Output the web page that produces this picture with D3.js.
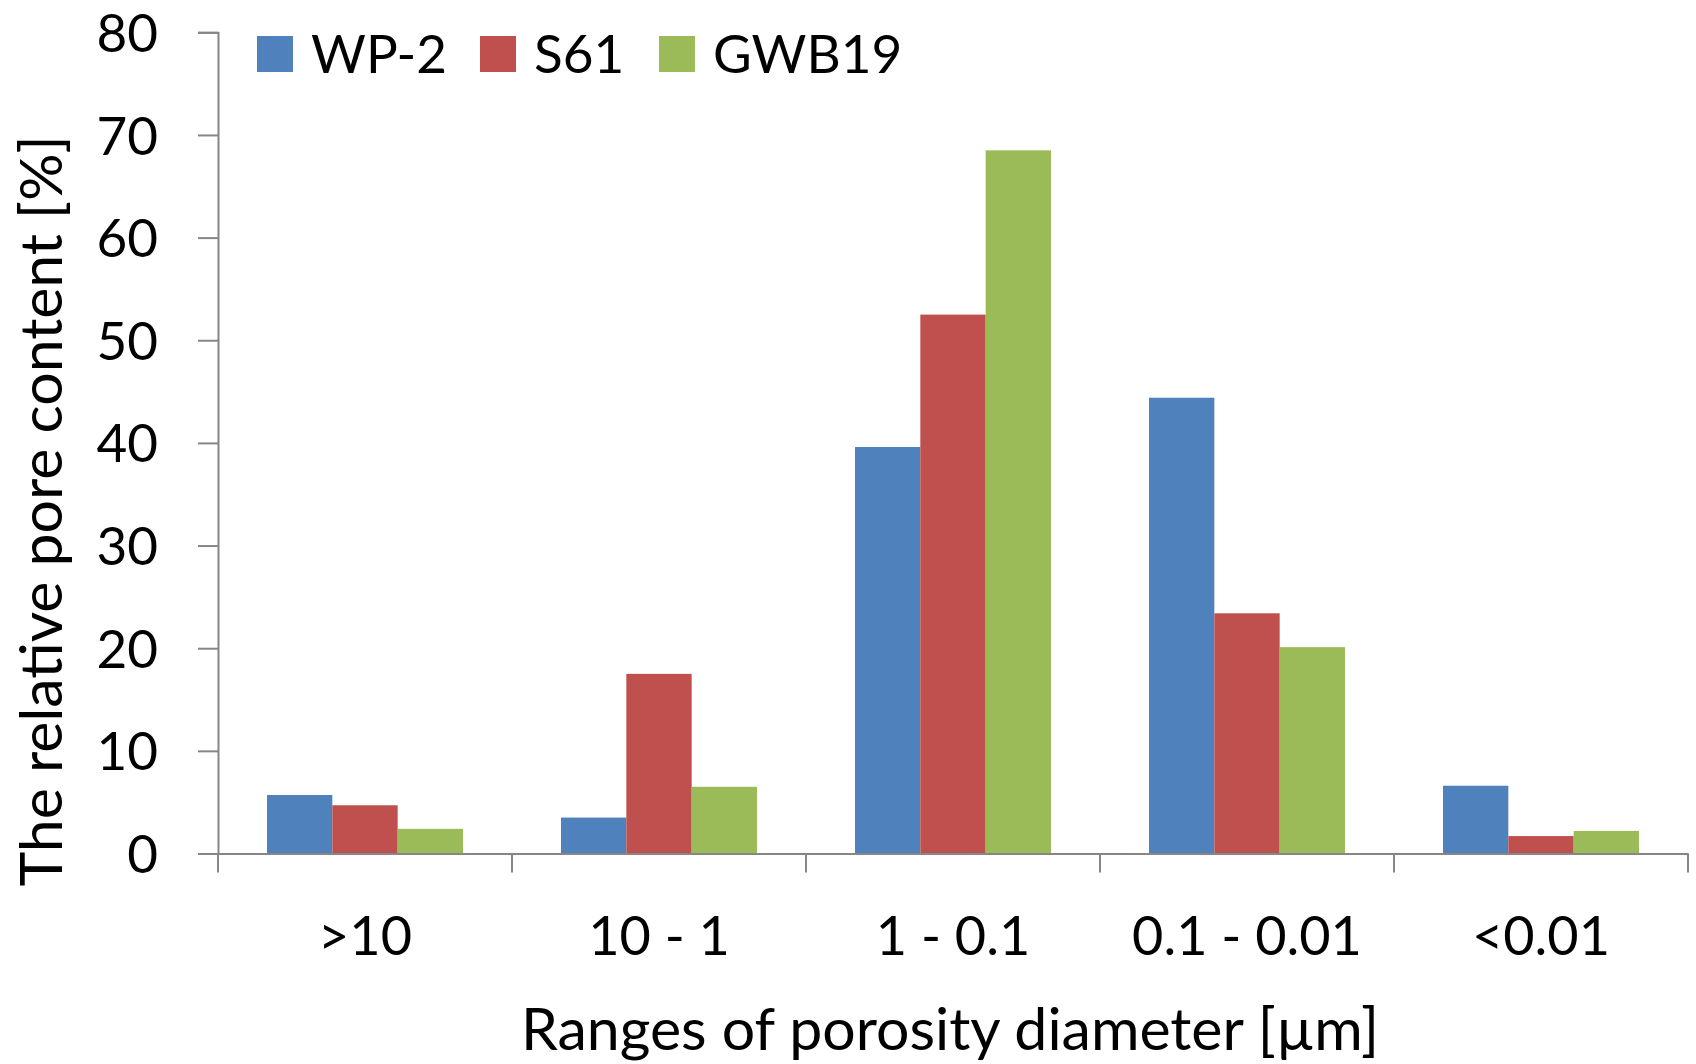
<!DOCTYPE html>
<html><head><meta charset="utf-8">
<script src="https://cdn.jsdelivr.net/npm/d3@7"></script>
<style>html,body{margin:0;padding:0;background:#fff}</style>
</head><body>
<svg id="c" width="1696" height="1064"></svg>
<script>
const categories = [">10", "10 - 1", "1 - 0.1", "0.1 - 0.01", "<0.01"];
const seriesNames = ["WP-2", "S61", "GWB19"];
const wp2   = [5.7, 3.5, 39.6, 44.4, 6.6];
const s61   = [4.7, 17.5, 52.5, 23.4, 1.7];
const gwb19 = [2.4, 6.5, 68.5, 20.1, 2.2];
const yTicks = [0, 10, 20, 30, 40, 50, 60, 70, 80];
const colors = ["#4F81BD", "#C0504D", "#9BBB59"];
const seriesValues = [wp2, s61, gwb19];

(function () {
const font = "Lato, 'Open Sans', sans-serif";
const svg = d3.select("#c");
const mLeft = 218, mRight = 1688, mTop = 32.3, mBottom = 853.5;

const x0 = d3.scaleBand().domain(categories).range([mLeft, mRight]).paddingInner(1/3).paddingOuter(1/6);
const x1 = d3.scaleBand().domain(seriesNames).range([0, x0.bandwidth()]);
const y = d3.scaleLinear().domain([0, 80]).range([mBottom, mTop]);

// bars
categories.forEach((c, i) => {
  seriesNames.forEach((s, j) => {
    svg.append("rect")
      .attr("x", x0(c) + x1(s))
      .attr("y", y(seriesValues[j][i]))
      .attr("width", x1.bandwidth())
      .attr("height", y(0) - y(seriesValues[j][i]))
      .attr("fill", colors[j]);
  });
});

// y axis
const yAxis = svg.append("g").attr("transform", `translate(${mLeft},0)`)
  .call(d3.axisLeft(y).tickValues(yTicks).tickSize(20).tickPadding(40));
yAxis.select(".domain").attr("stroke", "#868686").attr("stroke-width", 2);
yAxis.selectAll(".tick line").attr("stroke", "#868686").attr("stroke-width", 2);
yAxis.selectAll(".tick text").attr("font-family", font).attr("font-size", 53).attr("fill", "#000").attr("dy", "0.36em");

// x axis
const xb = d3.scaleBand().domain(categories).range([mLeft, mRight]);
const xAxis = svg.append("g").attr("transform", `translate(0,${mBottom})`)
  .call(d3.axisBottom(xb).tickSize(0).tickPadding(63));
xAxis.select(".domain").attr("stroke", "#868686").attr("stroke-width", 2);
xAxis.selectAll(".tick text").attr("font-family", font).attr("font-size", 54).attr("fill", "#000");
const bounds = categories.map(c => xb(c)).concat([mRight]);
svg.append("g").selectAll("line").data(bounds).join("line")
  .attr("x1", d => d).attr("x2", d => d).attr("y1", mBottom).attr("y2", mBottom + 19)
  .attr("stroke", "#868686").attr("stroke-width", 2);

// axis titles
svg.append("text").attr("transform", `translate(62,${(135+887)/2}) rotate(-90)`)
  .attr("text-anchor", "middle").attr("font-family", font).attr("font-size", 59)
  .text("The relative pore content [%]");
svg.append("text").attr("x", 950).attr("y", 1050).attr("text-anchor", "middle")
  .attr("font-family", font).attr("font-size", 59)
  .text("Ranges of porosity diameter [µm]");

// legend
const legX = [257, 480, 659];
seriesNames.forEach((s, j) => {
  const g = svg.append("g").attr("transform", `translate(${legX[j]},36)`);
  g.append("rect").attr("width", 36).attr("height", 36).attr("fill", colors[j]);
  g.append("text").attr("x", 54).attr("y", 37).attr("font-family", font).attr("font-size", 53).text(s);
});
})();
</script>
</body></html>
